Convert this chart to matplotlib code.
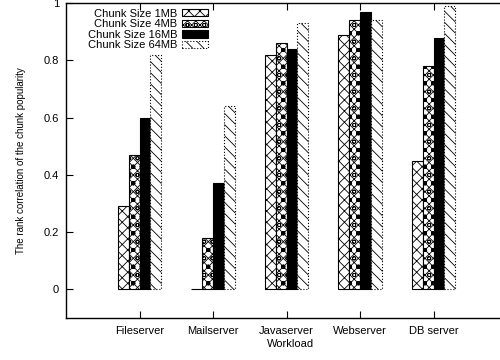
import matplotlib
matplotlib.use('Agg')
import matplotlib.pyplot as plt
import numpy as np

plt.rcParams['font.family'] = ['Liberation Sans', 'DejaVu Sans']
plt.rcParams['hatch.linewidth'] = 0.6

workloads = ['Fileserver', 'Mailserver', 'Javaserver', 'Webserver', 'DB server']
series = ['Chunk Size 1MB', 'Chunk Size 4MB', 'Chunk Size 16MB', 'Chunk Size 64MB']
size_1mb = [0.29, 0.0, 0.82, 0.89, 0.45]
size_4mb = [0.47, 0.18, 0.86, 0.94, 0.78]
size_16mb = [0.60, 0.37, 0.84, 0.97, 0.88]
size_64mb = [0.82, 0.64, 0.93, 0.94, 0.99]
yticks = [0, 0.2, 0.4, 0.6, 0.8, 1]

styles = [
    dict(facecolor='white', hatch='xxx', edgecolor='black', linestyle='-'),
    dict(facecolor='white', hatch='xxxxoo', edgecolor='black', linestyle='-'),
    dict(facecolor='black', hatch=None, edgecolor='black', linestyle='-'),
    dict(facecolor='white', hatch='\\\\\\', edgecolor='black', linestyle=':'),
]

fig = plt.figure(figsize=(5, 3.6), dpi=100)
ax = fig.add_axes([0.132, 0.117, 0.897, 0.874])

x = np.arange(len(workloads))
w = 0.147
for i, (vals, lab) in enumerate(zip([size_1mb, size_4mb, size_16mb, size_64mb], series)):
    st = styles[i]
    ax.bar(x + (i - 1.5) * w, vals, w, label=lab, facecolor=st['facecolor'],
           hatch=st['hatch'], edgecolor=st['edgecolor'], linestyle=st['linestyle'],
           linewidth=0.8)

ax.set_xlim(-1, 5.1)
ax.set_ylim(-0.1, 1.0)
ax.set_xticks(x)
ax.set_xticklabels(workloads, fontsize=8)
ax.set_yticks(yticks)
ax.set_yticklabels(['0', '0.2', '0.4', '0.6', '0.8', '1'], fontsize=8)
ax.tick_params(direction='in', top=True, length=5, width=0.8, pad=6)
ax.tick_params(axis='y', pad=5)
for s in ax.spines.values():
    s.set_linewidth(1.0)
ax.set_xlabel('Workload', fontsize=8, labelpad=2)
ax.set_ylabel('The rank correlation of the chunk popularity', fontsize=7, labelpad=13)

leg = ax.legend(loc='upper left', bbox_to_anchor=(0.036, 1.0), frameon=False,
                markerfirst=False, fontsize=8, handlelength=2.4, handleheight=0.6,
                handletextpad=0.4, labelspacing=0.05, borderaxespad=0.1)
for t in leg.get_texts():
    t.set_ha('right')

fig.savefig('out.png', dpi=100)
